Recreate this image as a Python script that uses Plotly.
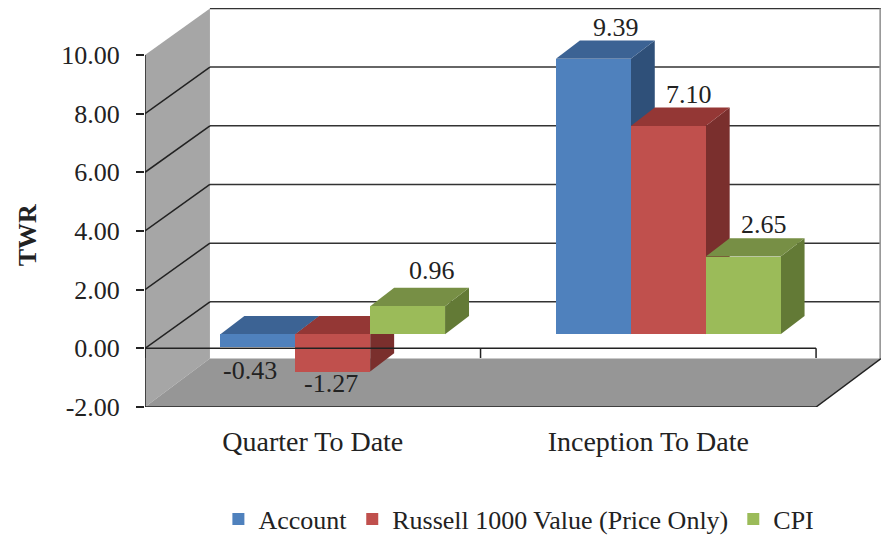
import plotly.graph_objects as go

categories = ["Quarter To Date", "Inception To Date"]
series_names = ["Account", "Russell 1000 Value (Price Only)", "CPI"]
account = [-0.43, 9.39]
russell = [-1.27, 7.10]
cpi = [0.96, 2.65]
y_ticks = [-2, 0, 2, 4, 6, 8, 10]
y_tick_labels = ["-2.00", "0.00", "2.00", "4.00", "6.00", "8.00", "10.00"]

series = [account, russell, cpi]
front = ["#4F81BD", "#C0504D", "#9BBB59"]
top = ["#3C6394", "#943735", "#778F45"]
side = ["#2F5079", "#7A2F2D", "#637A36"]

# oblique projection, in axis units
WALL_DX, WALL_DY = 0.1935, 1.585
FLOOR_DY = 1.65
BAR_X0, BAR_Y0 = 0.0595, 0.476
BAR_DX, BAR_DY = 0.0714, 0.63
BAR_W = 0.2232
X0, X1, Y0, Y1 = -0.5, 1.5, -2, 10
FONT = "Liberation Serif"
SIZE = 26
INK = "#222222"


def poly(pts, fill, layer="below"):
    path = "M " + " L ".join(f"{x},{y}" for x, y in pts) + " Z"
    return dict(type="path", path=path, fillcolor=fill, line_width=0, layer=layer,
                xref="x", yref="y")


def seg(x0, y0, x1, y1, color="#222222", w=1.5, layer="below"):
    return dict(type="line", x0=x0, y0=y0, x1=x1, y1=y1, xref="x", yref="y",
                line=dict(color=color, width=w), layer=layer)


shapes = [
    poly([(X0, Y0), (X0, Y1), (X0 + WALL_DX, Y1 + WALL_DY), (X0 + WALL_DX, Y0 + FLOOR_DY)], "#A6A6A6"),
    poly([(X0, Y0), (X1, Y0), (X1 + WALL_DX, Y0 + FLOOR_DY), (X0 + WALL_DX, Y0 + FLOOR_DY)], "#969696"),
]
for t in y_ticks[1:]:
    shapes.append(seg(X0 + WALL_DX, t + WALL_DY, X1 + WALL_DX, t + WALL_DY, "#333333"))
    if t != Y1:
        shapes.append(seg(X0, t, X0 + WALL_DX, t + WALL_DY))
shapes.append(seg(X1 + WALL_DX - 0.002, Y0 + FLOOR_DY, X1 + WALL_DX - 0.002, Y1 + WALL_DY, "#999999", 2))
shapes.append(seg(X1, Y0, X1 + WALL_DX, Y0 + FLOOR_DY))
shapes.append(seg(X0, Y0, X1, Y0))

fig = go.Figure()
annotations = []
# label offsets from the bar's end, in pixels
label_shift = {(0, 0): (-8, -24), (0, 1): (-2, -12), (0, 2): (24, 36),
               (1, 0): (23, 31), (1, 1): (21, 32), (1, 2): (21, 32)}

for s, values in enumerate(series):
    xs = [c + BAR_X0 + (s - 1) * BAR_W for c in range(len(categories))]
    fig.add_bar(x=xs, y=values, base=[BAR_Y0] * len(values), width=BAR_W,
                name=series_names[s], marker=dict(color=front[s], line_width=0))
    for c, (x, v) in enumerate(zip(xs, values)):
        l, r = x - BAR_W / 2, x + BAR_W / 2
        b, e = BAR_Y0, BAR_Y0 + v
        hi = max(b, e)
        lo = min(b, e)
        shapes.append(poly([(r, lo), (r, hi), (r + BAR_DX, hi + BAR_DY), (r + BAR_DX, lo + BAR_DY)], side[s]))
        shapes.append(poly([(l, hi), (r, hi), (r + BAR_DX, hi + BAR_DY), (l + BAR_DX, hi + BAR_DY)], top[s]))
        dx, dy = label_shift[(c, s)]
        annotations.append(dict(x=x, y=e, xref="x", yref="y", text=f"{v:.2f}", showarrow=False,
                                xshift=dx, yshift=dy, font=dict(family=FONT, size=SIZE, color=INK)))

# axis lines over the bars
shapes.append(seg(X0, Y0, X0, Y1, layer="above"))
shapes.append(seg(X0, 0, X1, 0, layer="above"))
for c in [X0, 0.5, X1]:
    shapes.append(seg(c, 0, c, -0.33, layer="above"))

annotations.append(dict(xref="paper", yref="paper", x=-0.16, xanchor="center", y=0.431, yanchor="middle",
                        text="<b>TWR</b>", textangle=-90, showarrow=False,
                        font=dict(family=FONT, size=SIZE, color=INK)))

# the page body adds an 8 px inset at the top and left
fig.update_layout(
    width=884, height=528, autosize=False, barmode="overlay", bargap=0,
    margin=dict(l=137, r=11, t=0, b=129),
    paper_bgcolor="white", plot_bgcolor="white",
    font=dict(family=FONT, size=SIZE, color=INK),
    shapes=shapes, annotations=annotations,
    xaxis=dict(range=[X0, X1 + WALL_DX], tickmode="array", tickvals=list(range(len(categories))),
               ticktext=categories, ticks="", showgrid=False, zeroline=False, showline=False,
               ticklabelstandoff=15, tickfont=dict(family=FONT, size=28, color=INK)),
    yaxis=dict(range=[Y0, 11.6], tickmode="array", tickvals=y_ticks, ticktext=y_tick_labels,
               ticks="outside", ticklen=8, tickwidth=1.5, tickcolor="#222222", showgrid=False,
               zeroline=False, showline=False, ticklabelstandoff=11,
               tickfont=dict(family=FONT, size=SIZE, color=INK)),
    legend=dict(orientation="h", xref="container", yref="container", x=0.238, xanchor="left",
                y=0.032, yanchor="middle",
                font=dict(family=FONT, size=SIZE, color=INK), bgcolor="rgba(0,0,0,0)"),
    showlegend=True,
)
fig.write_html("out.html")
